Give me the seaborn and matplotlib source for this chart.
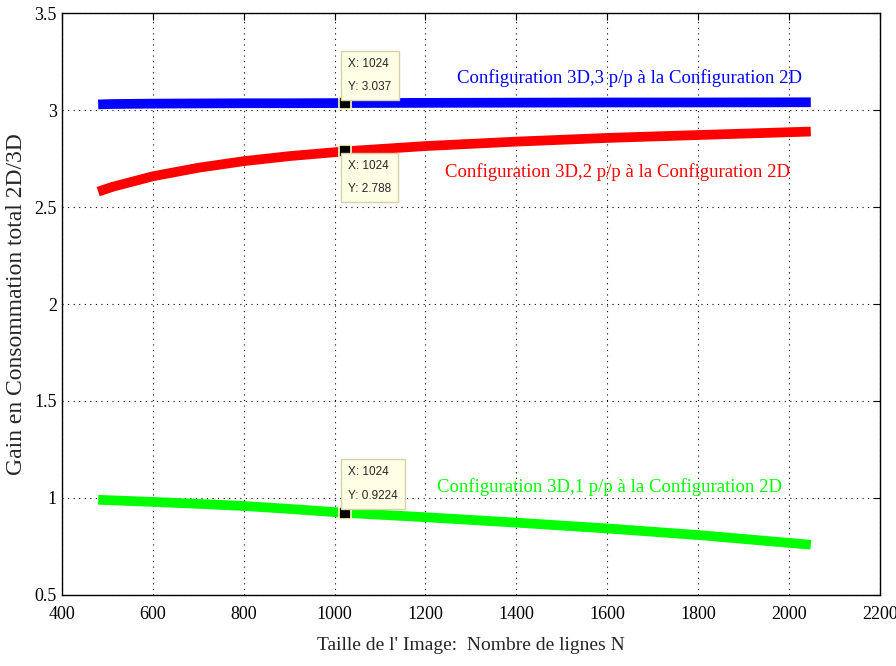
import matplotlib
matplotlib.use("Agg")
import matplotlib.pyplot as plt
import pandas as pd
import seaborn as sns

# values
N = [480, 512, 600, 700, 800, 900, 1024, 1200, 1400, 1600, 1800, 2048]
gain_3p = [3.030, 3.032, 3.034, 3.035, 3.036, 3.036, 3.037, 3.038, 3.039, 3.040, 3.040, 3.041]
gain_2p = [2.580, 2.605, 2.659, 2.703, 2.737, 2.763, 2.788, 2.815, 2.838, 2.857, 2.872, 2.890]
gain_1p = [0.990, 0.987, 0.979, 0.969, 0.958, 0.943, 0.9224, 0.900, 0.872, 0.842, 0.808, 0.758]

labels = [
    "Configuration 3D,3 p/p à la Configuration 2D",
    "Configuration 3D,2 p/p à la Configuration 2D",
    "Configuration 3D,1 p/p à la Configuration 2D",
]
colors = ["#0000ff", "#ff0000", "#00ff00"]

# datatips at N = 1024
tip_x = 1024
tip_y = [3.037, 2.788, 0.9224]
tip_text = ["X: 1024\nY: 3.037", "X: 1024\nY: 2.788", "X: 1024\nY: 0.9224"]

sns.set_style("white")
plt.rcParams["font.family"] = ["Liberation Serif", "DejaVu Serif"]

fig = plt.figure(figsize=(8.96, 6.66), dpi=100)
ax = fig.add_axes([0.069, 0.107, 0.913, 0.873])

df = pd.DataFrame({"N": N * 3,
                   "gain": gain_3p + gain_2p + gain_1p,
                   "cfg": [labels[0]] * len(N) + [labels[1]] * len(N) + [labels[2]] * len(N)})
sns.lineplot(data=df, x="N", y="gain", hue="cfg", palette=dict(zip(labels, colors)),
             linewidth=7, legend=False, ax=ax, solid_capstyle="butt")

ax.set_xlim(400, 2200)
ax.set_ylim(0.5, 3.5)
ax.set_xticks(range(400, 2201, 200))
ax.set_yticks([0.5, 1, 1.5, 2, 2.5, 3, 3.5])
ax.set_yticklabels(["0.5", "1", "1.5", "2", "2.5", "3", "3.5"])
ax.grid(True, color="black", linestyle=(0, (1, 4)), linewidth=0.8)
ax.tick_params(direction="in", top=True, right=True, length=5, labelsize=13, colors="black")
ax.tick_params(axis="x", pad=8)
for s in ax.spines.values():
    s.set_color("black")
    s.set_linewidth(1.0)

ax.set_xlabel("Taille de l' Image:  Nombre de lignes N", fontsize=14, labelpad=10)
ax.set_ylabel("Gain en Consommation total 2D/3D", fontsize=17)
ax.yaxis.set_label_coords(-0.043, 0.5)

# curve labels
ax.text(1650, 3.165, labels[0], color=colors[0], fontsize=13.5, ha="center", va="center")
ax.text(1623, 2.68, labels[1], color=colors[1], fontsize=13.5, ha="center", va="center")
ax.text(1606, 1.057, labels[2], color=colors[2], fontsize=13.5, ha="center", va="center")

# datatips
offsets = [(2, 7), (2, -6), (2, 8)]
vas = ["bottom", "top", "bottom"]
for y, txt, off, va in zip(tip_y, tip_text, offsets, vas):
    ax.plot([tip_x], [y], marker="s", markersize=9, color="black",
            markeredgecolor="#ffffc0", markeredgewidth=1.2, zorder=5)
    ax.annotate(txt, xy=(tip_x, y), xytext=off, textcoords="offset points",
                ha="left", va=va, fontsize=8.5, family=["Liberation Sans", "DejaVu Sans"],
                linespacing=2.3,
                bbox=dict(boxstyle="square,pad=0.6", facecolor="#ffffe6",
                          edgecolor="#d8d0a8", linewidth=1), zorder=6)

fig.savefig("out.png", dpi=100)
